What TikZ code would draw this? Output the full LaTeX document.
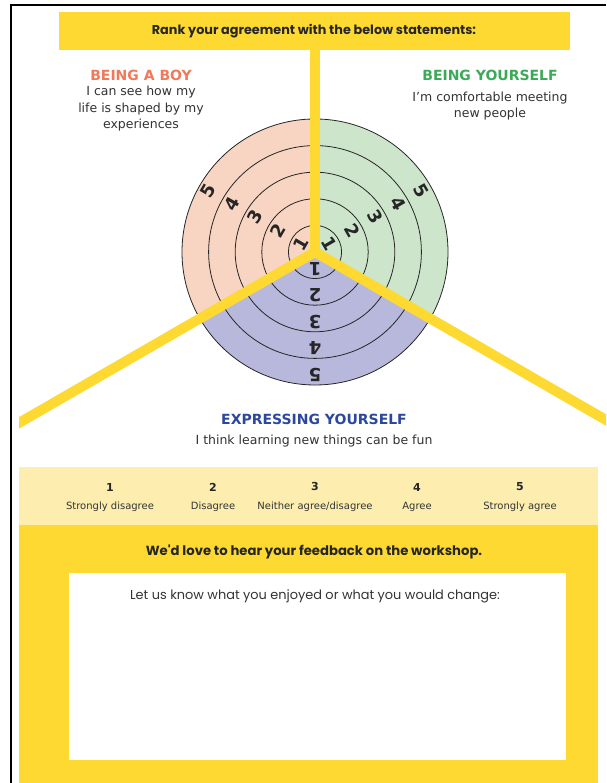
\documentclass[tikz,border=0pt]{standalone}
\usepackage{fontspec}
\setmainfont{DejaVu Sans}
\newfontfamily\popfont{Poppins}
\usepackage{tikz}
\usetikzlibrary{positioning}
\definecolor{wsyellow}{HTML}{FED932}
\definecolor{wspale}{HTML}{FDEEB0}
\definecolor{boypink}{HTML}{F8D4C2}
\definecolor{selfgreen}{HTML}{CDE5CB}
\definecolor{expblue}{HTML}{B7B8DC}
\definecolor{boyhead}{HTML}{F2785A}
\definecolor{selfhead}{HTML}{3BAA57}
\definecolor{exphead}{HTML}{2B47A0}

\begin{document}
\begin{tikzpicture}[x=1pt,y=1pt,
    heading/.style={font=\fontsize{14}{15}\selectfont\bfseries},
    bodytext/.style={font=\fontsize{12.5}{16.5}\selectfont, align=center, text=black!80},
    ring/.style={black!85, line width=0.8pt},
    digit/.style={font=\fontsize{18}{18}\selectfont\bfseries, text=black!85, inner sep=0pt},
    bar/.style={wsyellow, line width=10pt},
    scalenum/.style={font=\fontsize{11}{12}\selectfont\bfseries, text=black!85},
    scaletxt/.style={font=\fontsize{10}{12}\selectfont, text=black!80}]
    \useasboundingbox[fill=white] (0,0) rectangle (606,783);

    % 
    \draw[line width=2pt] (11,0) -- (11,778) -- (606,778);

    % 
    \fill[wsyellow] (59,733) rectangle (570,771);
    \node[font=\popfont\fontsize{12.8}{14}\selectfont\bfseries, text=black!85] (rank) at (314,752)
        {Rank your agreement with the below statements:};

    % 
    \coordinate (c) at (315,531);
    \fill[boypink] (c) -- ++(90:133) arc[start angle=90, end angle=210, radius=133] -- cycle;
    \fill[selfgreen] (c) -- ++(-30:133) arc[start angle=-30, end angle=90, radius=133] -- cycle;
    \fill[expblue] (c) -- ++(210:133) arc[start angle=210, end angle=330, radius=133] -- cycle;
    \foreach \r in {1,...,5}
        \draw[ring] (c) circle[radius=26.6*\r];

    % 
    \foreach \r in {1,...,5} {
        \path (c) ++(150:{26.6*\r-10}) node[digit, rotate=60] (boy\r) {\r};
        \path (c) ++(30:{26.6*\r-10}) node[digit, rotate=-60] (self\r) {\r};
        \path (c) ++(270:{26.6*\r-10}) node[digit, rotate=180] (exp\r) {\r};
    }

    % 
    \begin{scope}
        \clip (19,0) rectangle (606,783);
        \draw[bar] (c) -- ++(210:360);
        \draw[bar] (c) -- ++(330:360);
    \end{scope}
    \draw[bar] (315,733) -- (c);
    \fill[wsyellow] (c) circle[radius=5];

    % 
    \node[heading, text=boyhead] (boy) at (141,708) {BEING A BOY};
    \node[bodytext] (boytxt) at (141,674) {I can see how my\\life is shaped by my\\experiences};
    \node[heading, text=selfhead] (self) at (490,708) {BEING YOURSELF};
    \node[bodytext] (selftxt) at (490,677) {I'm comfortable meeting\\new people};
    \node[heading, text=exphead] (exp) at (314,364) {EXPRESSING YOURSELF};
    \node[bodytext] (exptxt) at (314,342) {I think learning new things can be fun};

    % 
    \fill[wspale] (19,258) rectangle (598,316);
    \foreach \n/\x/\t in {1/110/{Strongly disagree}, 2/213/{Disagree}, 3/315/{Neither agree/disagree},
                          4/417/{Agree}, 5/520/{Strongly agree}} {
        \node[scalenum] (num\n) at (\x,296) {\n};
        \node[scaletxt] (lab\n) at (\x,276) {\t};
    }

    % 
    \fill[wsyellow] (19,0) rectangle (598,258);
    \node[font=\popfont\fontsize{13.2}{15}\selectfont\bfseries, text=black!85] (fb) at (314,231)
        {We'd love to hear your feedback on the workshop.};
    \fill[white] (69,23) rectangle (566,210);
    \node[font=\popfont\fontsize{12.9}{15}\selectfont, text=black!80] (fbtxt) at (315,187)
        {Let us know what you enjoyed or what you would change:};
\end{tikzpicture}
\end{document}
